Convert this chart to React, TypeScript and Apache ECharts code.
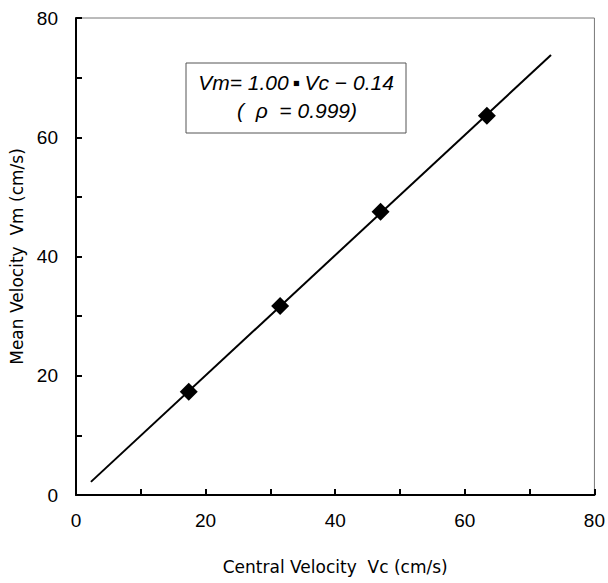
import React, { useEffect, useRef } from "react";
import * as echarts from "echarts";

const measuredPoints: [number, number][] = [
  [17.4, 17.3],
  [31.5, 31.7],
  [47.0, 47.5],
  [63.4, 63.6],
];
const fitLine: [number, number][] = [
  [2.3, 2.2],
  [73.3, 73.8],
];
const xTitle = "Central Velocity  Vc (cm/s)";
const yTitle = "Mean Velocity  Vm (cm/s)";
const eqLine1 = "Vm= 1.00\u2009\u25aa\u2009Vc \u2212 0.14";
const eqLine2 = "(  \u03c1  = 0.999)";

export default function App() {
  const ref = useRef<HTMLDivElement>(null);
  useEffect(() => {
    document.body.style.margin = "0";
    if (!ref.current) return;
    const chart = echarts.init(ref.current, null, { renderer: "svg" });
    const font = "Liberation Sans, Arial, sans-serif";
    const titleFont = "DejaVu Sans, sans-serif";
    chart.setOption({
      animation: false,
      backgroundColor: "#fff",
      grid: {
        left: 76,
        top: 18,
        right: 12,
        bottom: 88,
        show: true,
        borderColor: "#777",
        borderWidth: 1,
      },
      xAxis: {
        type: "value",
        min: 0,
        max: 80,
        interval: 20,
        name: xTitle,
        nameLocation: "middle",
        nameGap: 63,
        nameTextStyle: { fontFamily: titleFont, fontSize: 17, color: "#000" },
        axisLine: { show: true, lineStyle: { color: "#000", width: 2 } },
        axisTick: { show: true, inside: true, length: 6, lineStyle: { color: "#000", width: 2 } },
        minorTick: { show: true, splitNumber: 2, length: 6, lineStyle: { color: "#000", width: 2 } },
        splitLine: { show: false },
        axisLabel: { fontFamily: font, fontSize: 19, color: "#000", margin: 16 },
      },
      yAxis: {
        type: "value",
        min: 0,
        max: 80,
        interval: 20,
        name: yTitle,
        nameLocation: "middle",
        nameGap: 49,
        nameTextStyle: { fontFamily: titleFont, fontSize: 17, color: "#000" },
        axisLine: { show: true, lineStyle: { color: "#000", width: 2 } },
        axisTick: { show: true, inside: true, length: 6, lineStyle: { color: "#000", width: 2 } },
        minorTick: { show: true, splitNumber: 2, length: 6, lineStyle: { color: "#000", width: 2 } },
        splitLine: { show: false },
        axisLabel: { fontFamily: font, fontSize: 19, color: "#000", margin: 18 },
      },
      series: [
        {
          type: "line",
          data: fitLine,
          symbol: "none",
          lineStyle: { color: "#000", width: 2 },
          z: 2,
        },
        {
          type: "scatter",
          data: measuredPoints,
          symbol: "diamond",
          symbolSize: 18,
          itemStyle: { color: "#000", opacity: 1 },
          z: 3,
        },
      ],
      graphic: [
        {
          type: "rect",
          shape: { x: 186, y: 63, width: 220, height: 70 },
          style: { fill: "#fff", stroke: "#555", lineWidth: 1 },
          z: 10,
        },
        {
          type: "text",
          x: 296,
          y: 82,
          style: {
            text: eqLine1,
            fontFamily: font,
            fontStyle: "italic",
            fontSize: 21,
            fill: "#000",
            align: "center",
            verticalAlign: "middle",
          },
          z: 11,
        },
        {
          type: "text",
          x: 297,
          y: 110,
          style: {
            text: eqLine2,
            fontFamily: font,
            fontStyle: "italic",
            fontSize: 21,
            fill: "#000",
            align: "center",
            verticalAlign: "middle",
          },
          z: 11,
        },
      ],
    });
    return () => chart.dispose();
  }, []);
  return <div ref={ref} style={{ width: 608, height: 583 }} />;
}
